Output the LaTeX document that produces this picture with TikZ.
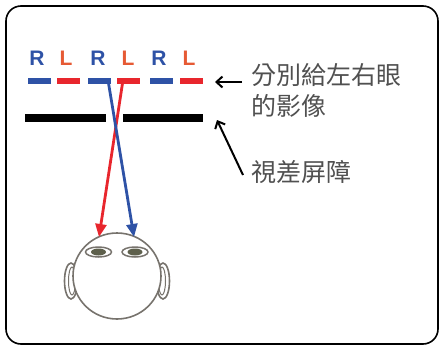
\documentclass[tikz,border=0pt]{standalone}
\usepackage{fontspec}
\setmainfont{Liberation Sans}
\newfontfamily\cjk{Noto Sans CJK TC}
\usetikzlibrary{arrows.meta}
\definecolor{lr-blue}{HTML}{2E52A6}
\definecolor{lr-red}{HTML}{E8262D}
\definecolor{lr-orange}{HTML}{E65A34}
\definecolor{label-gray}{HTML}{505050}
\definecolor{head-gray}{HTML}{77736D}
\definecolor{pupil}{HTML}{5E604C}
\tikzset{
    frame-box/.style = {draw=black, line width=1.6pt, rounded corners=15pt},
    eye-letter/.style = {font=\bfseries\fontsize{21}{21}\selectfont, inner sep=0pt},
    image-strip/.style = {line width=5.5pt},
    barrier-strip/.style = {line width=7.5pt},
    ray/.style = {line width=2.8pt, -{Triangle[length=13pt,width=11pt]}},
    pointer/.style = {line width=2pt, -{Straight Barb[length=6pt,width=11pt]}},
    side-label/.style = {font=\cjk\fontsize{25}{31}\selectfont, text=label-gray, align=left, inner sep=0pt},
    head-line/.style = {draw=head-gray, line width=1.6pt, fill=white},
}

\begin{document}
\begin{tikzpicture}[x=1pt, y=-1pt]
\useasboundingbox (0,0) rectangle (440,346);
\draw[frame-box] (6,6) rectangle (438,344);

% R / L columns and the interleaved image strips
\foreach \x/\t/\c [count=\i] in {37/R/lr-blue, 66/L/lr-orange, 98/R/lr-blue, 128/L/lr-orange, 159/R/lr-blue, 189/L/lr-orange}
    \node[eye-letter, text=\c] (letter\i) at (\x,58.5) {\t};
\foreach \a/\b/\c in {28/51/lr-blue, 57/80/lr-red, 88/111/lr-blue, 117/140/lr-red, 150/173/lr-blue, 180/203/lr-red}
    \draw[image-strip, \c] (\a,81) -- (\b,81);

% barrier with its slit
\draw[barrier-strip] (25,118) -- (106,118);
\draw[barrier-strip] (123,118) -- (203,118);

% head
\draw[head-line] (71,281) ellipse (6.5 and 18);
\draw[head-gray, line width=1pt] (72,281) ellipse (3.5 and 14);
\draw[head-line] (163,281) ellipse (6.5 and 18);
\draw[head-gray, line width=1pt] (162,281) ellipse (3.5 and 14);
\draw[head-line] (117,276) ellipse (44 and 43);
\foreach \x in {98.5,135} {
    \draw[head-gray, line width=1.5pt, fill=white] (\x,252) ellipse (13 and 5);
    \fill[pupil] (\x,252) ellipse (7.5 and 3.5);
}

% rays through the slit
\coordinate (src-l) at (123,80);
\coordinate (src-r) at (108,80);
\coordinate (eye-l) at (99,237);
\coordinate (eye-r) at (134,237);
\draw[ray, lr-red] (src-l) -- (eye-l);
\draw[ray, lr-blue] (src-r) -- (eye-r);

% labels
\node[side-label, anchor=west] (img-label) at (251,75) {分別給左右眼};
\node[side-label, anchor=west] (img-label2) at (251,106) {的影像};
\node[side-label, anchor=west] (bar-label) at (251,172) {視差屏障};
\coordinate (img-tip) at (215,82);
\coordinate (bar-tip) at (217,120);
\draw[pointer] ([xshift=-9pt]img-label.west |- img-tip) -- (img-tip);
\draw[pointer] ([xshift=-8pt,yshift=-3pt]bar-label.west) -- (bar-tip);
\end{tikzpicture}
\end{document}
